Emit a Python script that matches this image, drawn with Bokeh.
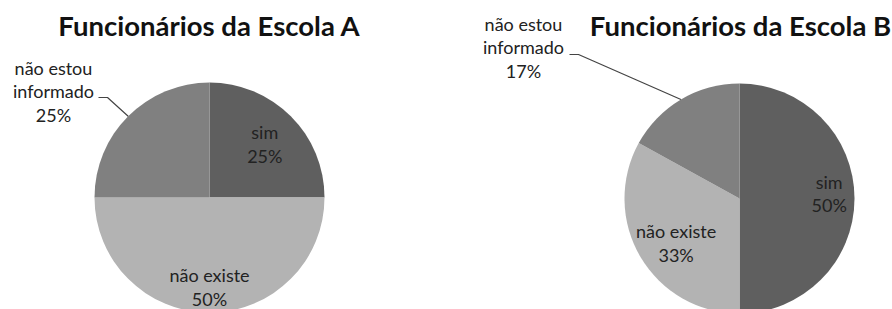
import math
from bokeh.plotting import figure
from bokeh.models import Range1d, ColumnDataSource
from bokeh.core.properties import value
from bokeh.embed import file_html
from bokeh.resources import INLINE

# ---- data ----
categories = ["sim", "não existe", "não estou\ninformado"]
school_a = [25, 50, 25]
school_b = [50, 33, 17]
titles = ["Funcionários da Escola A", "Funcionários da Escola B"]
colors = ["#5f5f5f", "#b3b3b3", "#808080"]

# ---- layout (image pixel coordinates, y measured from top) ----
W, H = 892, 309
p = figure(width=W, height=H, output_backend="svg",
           toolbar_location=None, x_axis_location=None, y_axis_location=None,
           x_range=Range1d(0, W), y_range=Range1d(0, H),
           min_border=0, outline_line_color=None, background_fill_color="white")
p.grid.visible = False

def Y(img_y):
    return H - img_y

FONT = value("Lato")
R = 115
LH = 1.09

charts = [
    dict(vals=school_a, title=titles[0], cx=209, cy=197, tx=209, ty=25,
         inner=[0.68, 0.74], inner_dy=[2, 4], lead_text=(53, 91), lead_elbow=(107, 97)),
    dict(vals=school_b, title=titles[1], cx=739, cy=198, tx=740, ty=25,
         inner=[0.78, 0.64], inner_dy=[-5, 7], lead_text=(523, 47), lead_elbow=(578, 54)),
]

for ch in charts:
    vals = ch["vals"]
    total = float(sum(vals))
    starts, ends = [], []
    a = 90.0
    for v in vals:
        starts.append(math.radians(a))
        a -= v / total * 360.0
        ends.append(math.radians(a))
    src = ColumnDataSource(dict(start=starts, end=ends, color=colors))
    p.wedge(x=ch["cx"], y=Y(ch["cy"]), radius=R, radius_units="screen",
            start_angle="start", end_angle="end", direction="clock",
            fill_color="color", line_color=None, source=src)

    # title
    p.text(x=[ch["tx"]], y=[Y(ch["ty"])], text=[ch["title"]],
           text_font=FONT, text_font_style="bold", text_font_size="27.5px",
           text_align="center", text_baseline="middle", text_color="#111111")

    # inner labels
    for i in range(2):
        mid = (starts[i] + ends[i]) / 2
        f = ch["inner"][i]
        lx = ch["cx"] + f * R * math.cos(mid)
        ly = ch["cy"] - f * R * math.sin(mid) + ch["inner_dy"][i]
        p.text(x=[lx], y=[Y(ly)], text=[f"{categories[i]}\n{vals[i]}%"],
               text_font=FONT, text_font_size="18px", text_align="center",
               text_baseline="middle", text_line_height=LH, text_color="#222222")

    # outside label with leader line
    mid = (starts[2] + ends[2]) / 2
    ex = ch["cx"] + R * math.cos(mid)
    ey = ch["cy"] - R * math.sin(mid)
    elx, ely = ch["lead_elbow"]
    p.line(x=[elx - 9, elx, ex], y=[Y(ely), Y(ely), Y(ey)],
           line_color="#444444", line_width=1.2)
    ltx, lty = ch["lead_text"]
    p.text(x=[ltx], y=[Y(lty)], text=[f"{categories[2]}\n{vals[2]}%"],
           text_font=FONT, text_font_size="18px", text_align="center",
           text_baseline="middle", text_line_height=LH, text_color="#222222")

open("out.html", "w").write(file_html(p, INLINE))
